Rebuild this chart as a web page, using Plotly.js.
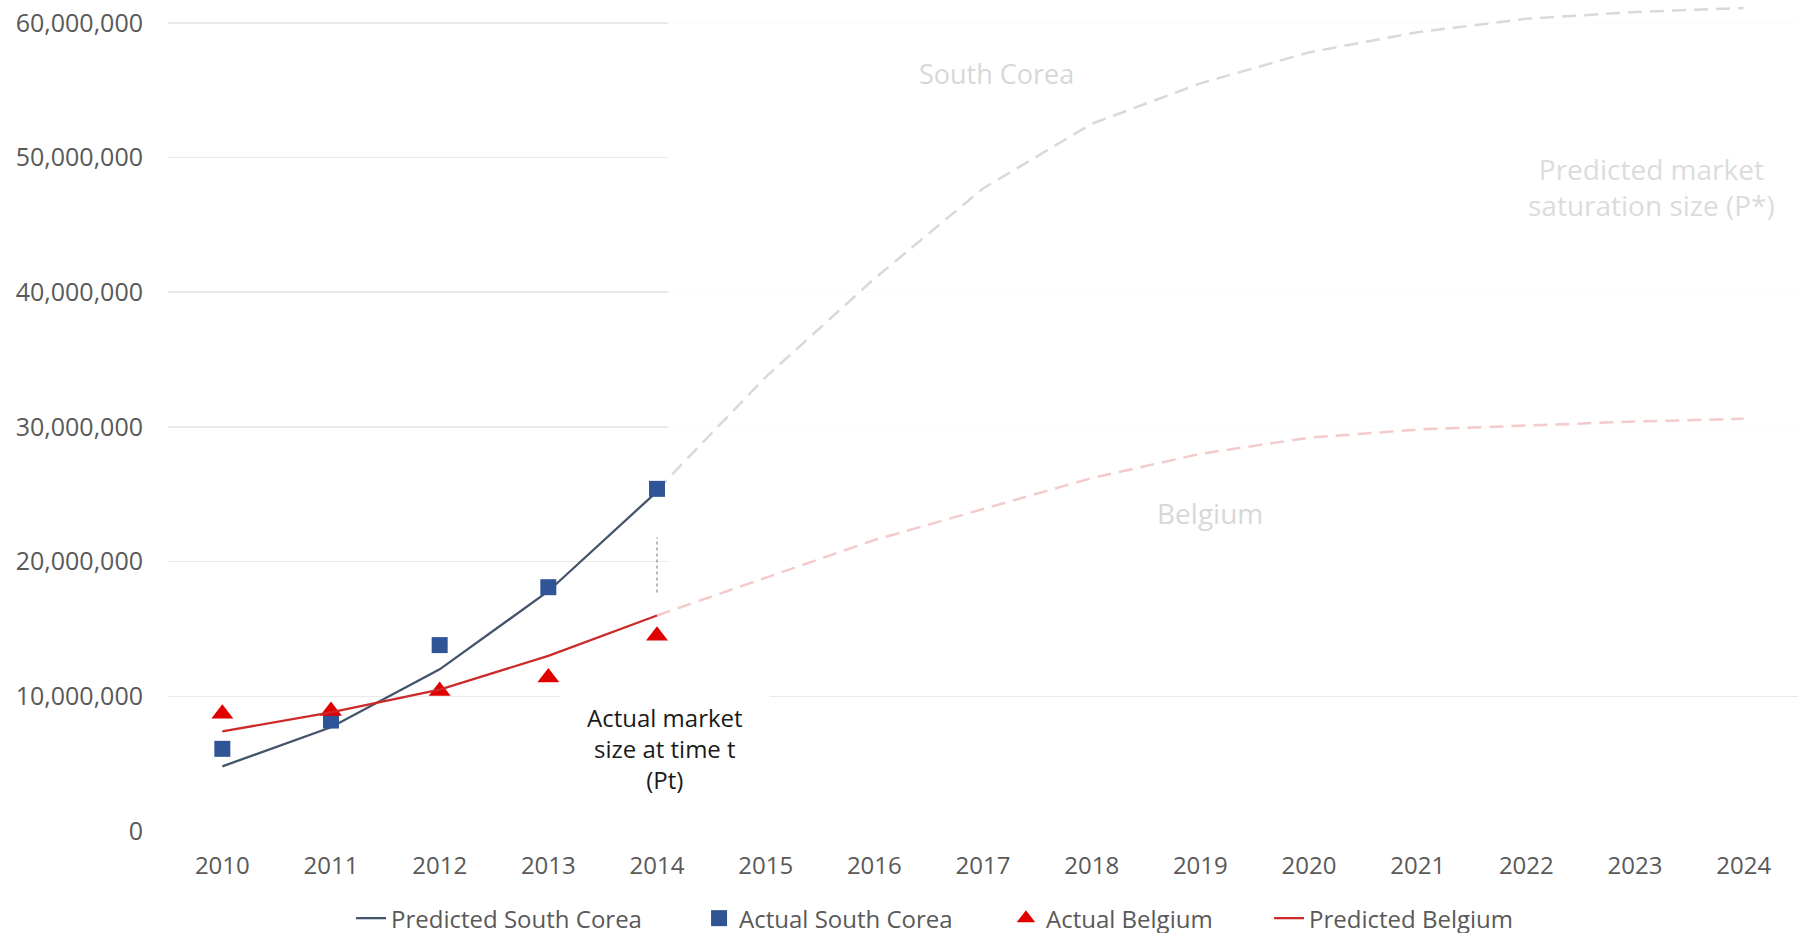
<!DOCTYPE html>
<html>
<head>
<meta charset="utf-8">
<script src="https://cdn.plot.ly/plotly-3.0.1.min.js"></script>
<style>
  html, body { margin: 0; padding: 0; background: #ffffff; }
  #chart { width: 1798px; height: 933px; }
</style>
</head>
<body>
<div id="chart"></div>
<script>
// Observed years
const yearsObs = [2010, 2011, 2012, 2013, 2014];
// Projection years
const yearsProj = [2014, 2015, 2016, 2017, 2018, 2019, 2020, 2021, 2022, 2023, 2024];
// Tick labels
const tickYears = [2010, 2011, 2012, 2013, 2014, 2015, 2016, 2017, 2018, 2019, 2020, 2021, 2022, 2023, 2024];
const yTicks = [0, 10000000, 20000000, 30000000, 40000000, 50000000, 60000000];

// Series values
const predictedSouthCorea = [4800000, 7700000, 12000000, 17800000, 25200000];
const actualSouthCorea    = [6100000, 8200000, 13800000, 18100000, 25400000];
const actualBelgium       = [8700000, 8900000, 10400000, 11400000, 14500000];
const predictedBelgium    = [7400000, 8800000, 10500000, 13000000, 16000000];

const projSouthCorea = [25300000, 33700000, 41000000, 47700000, 52500000, 55500000, 57800000, 59300000, 60300000, 60800000, 61100000];
const projBelgium    = [16000000, 18800000, 21600000, 23900000, 26200000, 28000000, 29200000, 29800000, 30100000, 30400000, 30600000];

// Pt marker segment (at 2014)
const ptYear = 2014;
const ptRange = [17700000, 21800000];

const FONT = "'Open Sans', 'Noto Sans', sans-serif";

const traces = [
  {
    x: yearsProj, y: projSouthCorea, type: 'scatter', mode: 'lines',
    line: {color: '#D9D9D9', width: 2.5, dash: '14px,8px'},
    showlegend: false, hoverinfo: 'skip'
  },
  {
    x: yearsProj, y: projBelgium, type: 'scatter', mode: 'lines',
    line: {color: '#F3CBCB', width: 2.5, dash: '14px,8px'},
    showlegend: false, hoverinfo: 'skip'
  },
  {
    name: 'Predicted South Corea', x: yearsObs, y: predictedSouthCorea,
    type: 'scatter', mode: 'lines', legend: 'legend',
    line: {color: '#44546A', width: 2.3}
  },
  {
    name: 'Actual South Corea', x: yearsObs, y: actualSouthCorea,
    type: 'scatter', mode: 'markers', legend: 'legend2',
    marker: {symbol: 'square', size: 16, color: '#2F5597'}
  },
  {
    name: 'Actual Belgium', x: yearsObs, y: actualBelgium,
    type: 'scatter', mode: 'markers', legend: 'legend3',
    marker: {symbol: 'triangle-up', size: 19, color: '#E00000'}
  },
  {
    name: 'Predicted Belgium', x: yearsObs, y: predictedBelgium,
    type: 'scatter', mode: 'lines', legend: 'legend4',
    line: {color: '#CC2A2A', width: 2.3}
  }
];

function leg(x) {
  return {
    orientation: 'h', x: x, xanchor: 'left',
    yref: 'container', y: 0.0155, yanchor: 'middle',
    font: {size: 24, color: '#595959', family: FONT},
    bgcolor: 'rgba(0,0,0,0)', borderwidth: 0
  };
}

const layout = {
  width: 1798, height: 933,
  margin: {l: 168, r: 0, t: 5, b: 102, autoexpand: false},
  paper_bgcolor: '#ffffff', plot_bgcolor: '#ffffff',
  font: {family: FONT, color: '#595959', size: 24},
  xaxis: {
    range: [2009.5, 2024.5],
    tickmode: 'array', tickvals: tickYears, ticktext: tickYears.map(String),
    showgrid: false, zeroline: false, showline: false,
    ticks: '', ticklabelstandoff: 18,
    tickfont: {size: 24, color: '#595959', family: FONT}
  },
  yaxis: {
    range: [0, 61320000],
    tickmode: 'array', tickvals: yTicks, tickformat: ',',
    showgrid: true, gridcolor: '#E9E9E9', gridwidth: 1.5,
    zeroline: false, showline: false, ticks: '', ticklabelstandoff: 24,
    tickfont: {size: 25, color: '#595959', family: FONT}
  },
  legend: leg(0.1123),
  legend2: leg(0.3258),
  legend3: leg(0.5141),
  legend4: leg(0.6755),
  shapes: [
    {
      type: 'rect', layer: 'between', xref: 'x', yref: 'y',
      x0: 2014.1, x1: 2024.5, y0: 10500000, y1: 61320000,
      fillcolor: 'rgba(255,255,255,0.88)', line: {width: 0}
    },
    {
      type: 'line', xref: 'x', yref: 'y',
      x0: ptYear, x1: ptYear, y0: ptRange[0], y1: ptRange[1],
      line: {color: '#8C8C8C', width: 1.2, dash: 'dot'}
    }
  ],
  annotations: [
    {
      text: 'Actual market<br>size at time t<br>(Pt)', xref: 'x', yref: 'y',
      x: 2014.07, y: 6160000, showarrow: false, align: 'center',
      font: {size: 24, color: '#1a1a1a', family: FONT},
      bgcolor: '#ffffff', borderpad: 26
    },
    {
      text: 'South Corea', xref: 'x', yref: 'y', x: 2017.12, y: 56200000,
      showarrow: false, font: {size: 27, color: '#D8D8D8', family: FONT}
    },
    {
      text: 'Belgium', xref: 'x', yref: 'y', x: 2019.09, y: 23600000,
      showarrow: false, font: {size: 28, color: '#D8D8D8', family: FONT}
    },
    {
      text: 'Predicted market<br>saturation size (P*)', xref: 'x', yref: 'y',
      x: 2023.15, y: 47800000, showarrow: false, align: 'center',
      font: {size: 28, color: '#DCDCDC', family: FONT}
    }
  ]
};

Plotly.newPlot('chart', traces, layout, {displayModeBar: false, staticPlot: true});
</script>
</body>
</html>
